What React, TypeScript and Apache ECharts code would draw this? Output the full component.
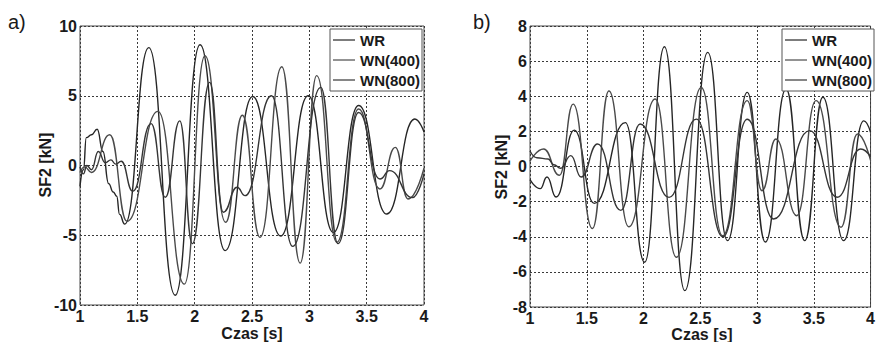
import React, { useEffect, useRef } from "react";
import * as echarts from "echarts";

// ---- data ----
const seriesNames = ["WR", "WN(400)", "WN(800)"];
const xTickLabels = ["1", "1.5", "2", "2.5", "3", "3.5", "4"];

// Panel a) SF2 [kN] vs Czas [s]
const A_WR: number[][] = [
  [1.0, -1.5], [1.03, -0.3], [1.055, 2.0], [1.1, 2.2], [1.15, 2.6], [1.2, 1.0], [1.25, -1.3],
  [1.29, -1.9], [1.32, -2.2], [1.345, -3.5], [1.39, -4.2], [1.6, 8.45], [1.83, -9.3],
  [2.047, 8.66], [2.265, -6.1], [2.506, 4.95], [2.75, -5.05], [2.99, 5.0], [3.21, -4.8],
  [3.43, 4.3], [3.675, -3.48], [3.92, 3.33], [4.0, 2.4],
];
const A_WN400: number[][] = [
  [1.0, -0.5], [1.04, -0.1], [1.1, -0.5], [1.26, 2.2], [1.41, -4.0], [1.68, 3.88],
  [1.91, -8.5], [2.09, 7.87], [2.27, -4.07], [2.416, 3.6], [2.57, -5.15], [2.76, 7.08],
  [2.92, -7.0], [3.064, 6.44], [3.24, -5.5], [3.43, 4.05], [3.615, -1.68], [3.75, 1.3],
  [3.86, -2.4], [4.0, -0.2],
];
const A_WN800: number[][] = [
  [1.0, -0.1], [1.03, -0.6], [1.06, 0.0], [1.1, -0.3], [1.16, 1.0], [1.22, 0.2], [1.27, 0.4],
  [1.31, 0.1], [1.36, 0.3], [1.46, -1.85], [1.62, 3.0], [1.744, -2.28], [1.87, 3.2],
  [1.98, -5.6], [2.13, 5.96], [2.25, -3.35], [2.37, -1.56], [2.44, -2.16], [2.67, 5.0],
  [2.855, -5.8], [3.1, 5.6], [3.25, -5.6], [3.43, 3.8], [3.616, -0.97], [3.7, -0.37],
  [3.9, -2.3], [4.0, -0.6],
];

// Panel b)
const B_WR: number[][] = [
  [1.0, -0.75], [1.09, -1.26], [1.15, -0.6], [1.23, -1.74], [1.39, 2.07], [1.566, -2.1],
  [1.84, 2.5], [2.01, -5.45], [2.184, 6.82], [2.364, -7.07], [2.566, 6.5], [2.74, -4.22],
  [2.914, 4.22], [3.073, -4.3], [3.256, 4.41], [3.42, -4.22], [3.58, 3.94], [3.763, -4.22],
  [3.94, 2.6], [4.0, 1.95],
];
const B_WN400: number[][] = [
  [1.0, 0.3], [1.12, 1.0], [1.26, -0.5], [1.38, 3.55], [1.55, -3.53], [1.695, 4.3],
  [1.87, -3.43], [2.103, 3.84], [2.29, -5.17], [2.508, 4.5], [2.697, -3.94], [2.914, 3.75],
  [3.044, -1.38], [3.166, 1.57], [3.35, -2.8], [3.52, 3.75], [3.74, -3.46], [3.884, 1.85],
  [4.0, 0.35],
];
const B_WN800: number[][] = [
  [1.0, 0.88], [1.06, 0.5], [1.16, 0.43], [1.21, 0.1], [1.27, -0.1], [1.36, 0.62],
  [1.45, -0.6], [1.595, 1.28], [1.8, -2.5], [1.97, 2.42], [2.225, -1.76], [2.465, 2.7],
  [2.7, -4.0], [2.914, 2.69], [3.146, -2.99], [3.464, 2.04], [3.705, -1.75], [3.913, 1.0],
  [4.0, 0.55],
];

const lineColors = ["#262626", "#4a4a4a", "#353535"];

export default function App() {
  const ref = useRef<HTMLDivElement>(null);
  useEffect(() => {
    document.body.style.margin = "0";
    const chart = echarts.init(ref.current!, undefined, { renderer: "svg" });
    const font = "'Liberation Sans', Arial, sans-serif";
    const tickStyle = {
      fontFamily: font,
      fontWeight: "bold" as const,
      fontSize: 16,
      color: "#1a1a1a",
    };
    const split = { show: true, lineStyle: { color: "#3a3a3a", type: [2, 2] as any, width: 1 } };
    const mkX = (gi: number) => ({
      type: "value" as const,
      gridIndex: gi,
      min: 1,
      max: 4,
      interval: 0.5,
      axisLine: { show: false },
      axisTick: { show: false },
      splitLine: split,
      axisLabel: {
        ...tickStyle,
        margin: 3,
        formatter: (v: number) => xTickLabels[Math.round((v - 1) / 0.5)] ?? String(v),
      },
    });
    const mkY = (gi: number, lim: number, step: number) => ({
      type: "value" as const,
      gridIndex: gi,
      min: -lim,
      max: lim,
      interval: step,
      axisLine: { show: false },
      axisTick: { show: false },
      splitLine: split,
      axisLabel: { ...tickStyle, margin: 3 },
    });
    const mkSeries = (gi: number, data: number[][], i: number) => ({
      type: "line" as const,
      name: seriesNames[i],
      xAxisIndex: gi,
      yAxisIndex: gi,
      data,
      showSymbol: false,
      symbol: "none",
      smooth: 0.5,
      smoothMonotone: "x" as const,
      color: lineColors[i],
      lineStyle: { color: lineColors[i], width: 1.4 },
      z: 3,
    });
    const legendBase = {
      data: seriesNames,
      orient: "vertical" as const,
      top: 29,
      icon: "rect",
      itemWidth: 22,
      itemHeight: 1.2,
      itemGap: 4,
      padding: [3, 2, 3, 3],
      backgroundColor: "#ffffff",
      borderColor: "#555555",
      borderWidth: 1,
      selectedMode: false,
      textStyle: {
        fontFamily: font,
        fontSize: 15,
        fontWeight: "bold" as const,
        color: "#1a1a1a",
        lineHeight: 16,
      },
      z: 10,
    };
    const titleFont = `bold 16px ${font}`;
    chart.setOption({
      animation: false,
      backgroundColor: "#ffffff",
      grid: [
        { left: 80, top: 26, width: 344, height: 279, show: true, borderColor: "#4a4a4a", borderWidth: 1, backgroundColor: "transparent" },
        { left: 530, top: 26, width: 345, height: 281, show: true, borderColor: "#4a4a4a", borderWidth: 1, backgroundColor: "transparent" },
      ],
      xAxis: [mkX(0), mkX(1)],
      yAxis: [mkY(0, 10, 5), mkY(1, 8, 2)],
      legend: [
        { ...legendBase, left: 330 },
        { ...legendBase, left: 782 },
      ],
      series: [
        mkSeries(0, A_WR, 0),
        mkSeries(0, A_WN400, 1),
        mkSeries(0, A_WN800, 2),
        mkSeries(1, B_WR, 0),
        mkSeries(1, B_WN400, 1),
        mkSeries(1, B_WN800, 2),
      ],
      graphic: [
        { type: "text", x: 8, y: 22, style: { text: "a)", font: `20px ${font}`, fill: "#1a1a1a", textVerticalAlign: "middle" } },
        { type: "text", x: 473, y: 22, style: { text: "b)", font: `20px ${font}`, fill: "#1a1a1a", textVerticalAlign: "middle" } },
        { type: "text", x: 45, y: 165, rotation: Math.PI / 2, style: { text: "SF2 [kN]", font: titleFont, fill: "#1a1a1a", textAlign: "center", textVerticalAlign: "middle" } },
        { type: "text", x: 501, y: 167, rotation: Math.PI / 2, style: { text: "SF2 [kN]", font: titleFont, fill: "#1a1a1a", textAlign: "center", textVerticalAlign: "middle" } },
        { type: "text", x: 252, y: 333, style: { text: "Czas [s]", font: titleFont, fill: "#1a1a1a", textAlign: "center", textVerticalAlign: "middle" } },
        { type: "text", x: 702, y: 334, style: { text: "Czas [s]", font: titleFont, fill: "#1a1a1a", textAlign: "center", textVerticalAlign: "middle" } },
      ],
    });
    return () => chart.dispose();
  }, []);
  return <div ref={ref} style={{ width: 878, height: 342 }} />;
}
